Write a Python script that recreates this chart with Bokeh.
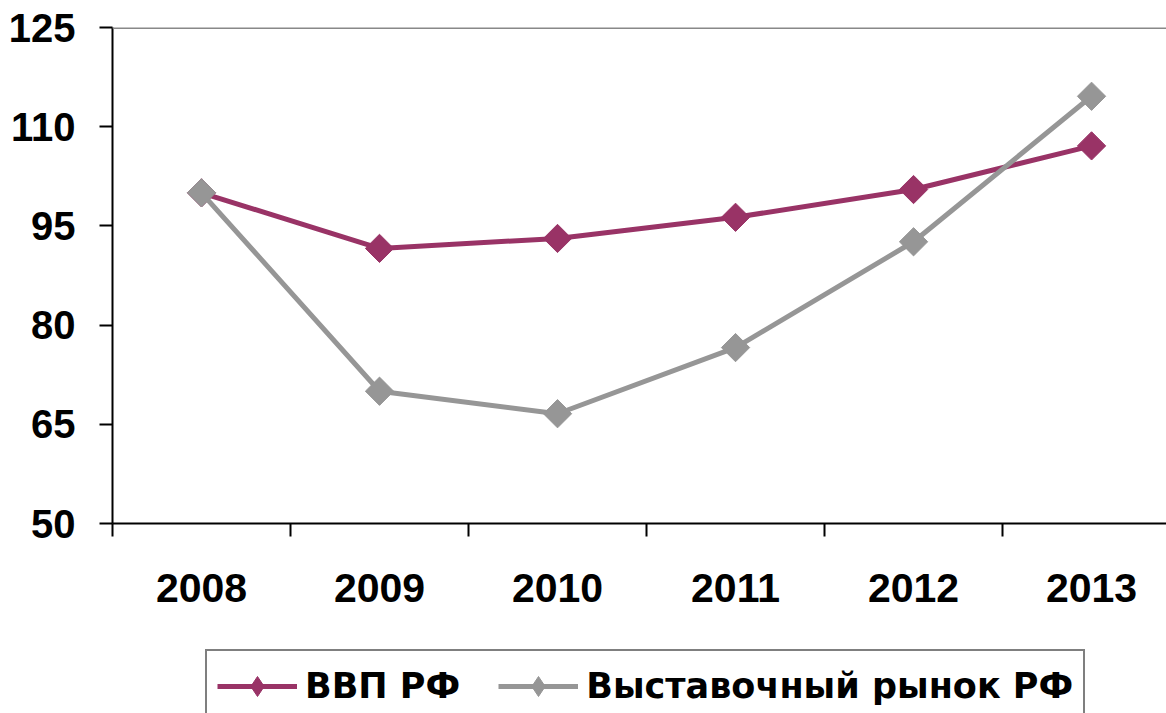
import math
from bokeh.plotting import figure
from bokeh.layouts import column
from bokeh.models import (FixedTicker, Span, Legend, LegendItem, ColumnDataSource)
from bokeh.embed import file_html
from bokeh.resources import INLINE

# ---- data ----
years = ["2008", "2009", "2010", "2011", "2012", "2013"]
gdp = [100.0, 91.6, 93.1, 96.3, 100.5, 107.1]
exhibition = [100.0, 70.0, 66.6, 76.6, 92.6, 114.6]
y_ticks = [50, 65, 80, 95, 110, 125]
series_names = ["ВВП РФ", "Выставочный рынок РФ"]

GDP_COLOR = "#993366"
EXH_COLOR = "#969696"
FONT = "Liberation Sans"

xs = [i + 0.5 for i in range(len(years))]

src_g = ColumnDataSource(dict(x=xs, y=gdp))
src_e = ColumnDataSource(dict(x=xs, y=exhibition))

# ---------------- main chart ----------------
p = figure(width=1166, height=630, output_backend="svg", toolbar_location=None,
           x_range=(0, 5.921), y_range=(50, 125),
           min_border_left=112, min_border_top=27, min_border_bottom=107,
           min_border_right=0)
p.outline_line_color = None
p.xgrid.visible = False
p.ygrid.visible = False
p.background_fill_color = "white"
p.border_fill_color = "white"

ya = p.yaxis[0]
ya.ticker = FixedTicker(ticks=y_ticks)
ya.axis_line_width = 2
ya.axis_line_color = "black"
ya.major_tick_line_width = 2
ya.major_tick_line_color = "black"
ya.major_tick_out = 13
ya.major_tick_in = 0
ya.minor_tick_line_color = None
ya.major_label_standoff = 24
ya.major_label_text_font = FONT
ya.major_label_text_font_style = "bold"
ya.major_label_text_font_size = "40px"
ya.major_label_text_color = "black"

xa = p.xaxis[0]
xa.ticker = FixedTicker(ticks=xs, minor_ticks=list(range(len(years) + 1)))
xa.major_label_overrides = {x: y for x, y in zip(xs, years)}
xa.axis_line_width = 2
xa.axis_line_color = "black"
xa.major_tick_line_color = None
xa.major_tick_out = 13
xa.major_tick_in = 0
xa.minor_tick_line_color = "black"
xa.minor_tick_line_width = 2
xa.minor_tick_out = 13
xa.minor_tick_in = 0
xa.major_label_standoff = 37
xa.major_label_text_font = FONT
xa.major_label_text_font_style = "bold"
xa.major_label_text_font_size = "41px"
xa.major_label_text_color = "black"

p.add_layout(Span(location=125, dimension="width", line_color="#888888", line_width=3))

p.line("x", "y", source=src_g, line_color=GDP_COLOR, line_width=5)
p.scatter("x", "y", source=src_g, marker="square", angle=math.pi / 4, size=20,
          fill_color=GDP_COLOR, line_color=GDP_COLOR)
p.line("x", "y", source=src_e, line_color=EXH_COLOR, line_width=5)
p.scatter("x", "y", source=src_e, marker="square", angle=math.pi / 4, size=20,
          fill_color=EXH_COLOR, line_color=EXH_COLOR)

# ---------------- legend strip (same series, out of its view) ----------------
q = figure(width=1166, height=83, output_backend="svg", toolbar_location=None,
           x_axis_location=None, y_axis_location=None,
           x_range=(0, 1), y_range=(0, 1),
           min_border_left=0, min_border_right=0, min_border_top=0, min_border_bottom=0)
q.outline_line_color = None
q.xgrid.visible = False
q.ygrid.visible = False
q.background_fill_color = "white"
q.border_fill_color = "white"

qlg = q.line("x", "y", source=src_g, line_color=GDP_COLOR, line_width=5)
qsg = q.scatter("x", "y", source=src_g, marker="diamond", size=20,
                fill_color=GDP_COLOR, line_color=GDP_COLOR)
qle = q.line("x", "y", source=src_e, line_color=EXH_COLOR, line_width=5)
qse = q.scatter("x", "y", source=src_e, marker="diamond", size=20,
                fill_color=EXH_COLOR, line_color=EXH_COLOR)

legend = Legend(items=[LegendItem(label=series_names[0], renderers=[qlg, qsg]),
                       LegendItem(label=series_names[1], renderers=[qle, qse])],
                orientation="horizontal", location=(93, -10))
legend.border_line_color = "black"
legend.border_line_width = 2
legend.background_fill_color = "white"
legend.background_fill_alpha = 1
legend.padding = 10
legend.margin = 0
legend.spacing = 38
legend.glyph_width = 80
legend.glyph_height = 50
legend.label_standoff = 8
legend.label_text_font = "DejaVu Sans"
legend.label_text_font_style = "bold"
legend.label_text_font_size = "35px"
legend.label_text_color = "black"
q.add_layout(legend, "center")

layout = column(p, q, spacing=0)
open("out.html", "w").write(file_html(layout, INLINE))
